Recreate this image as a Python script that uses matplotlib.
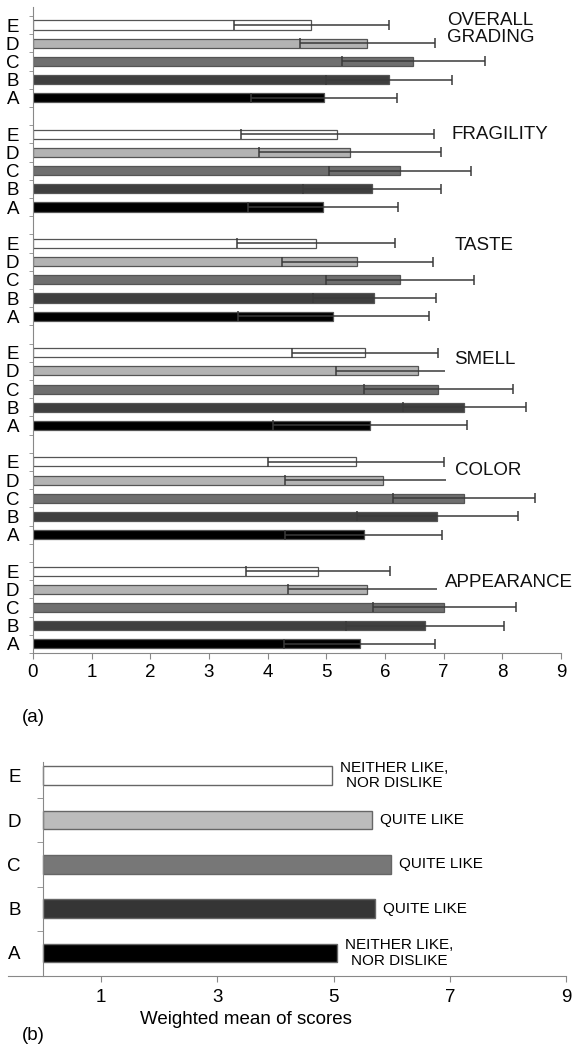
import numpy as np
import matplotlib
matplotlib.use('Agg')
import matplotlib.pyplot as plt

plt.rcParams['font.family'] = ['Liberation Sans', 'DejaVu Sans']

# samples A..E
samples = ['A', 'B', 'C', 'D', 'E']
# attributes, bottom group first
attributes = ['APPEARANCE', 'COLOR', 'SMELL', 'TASTE', 'FRAGILITY', 'OVERALL\nGRADING']

appearance = [5.57, 6.68, 7.01, 5.69, 4.86]
appearance_sd = [1.29, 1.35, 1.22, 1.34, 1.23]
color = [5.64, 6.89, 7.34, 5.96, 5.51]
color_sd = [1.34, 1.37, 1.21, 1.66, 1.50]
smell = [5.74, 7.35, 6.91, 6.56, 5.66]
smell_sd = [1.65, 1.05, 1.27, 1.40, 1.25]
taste = [5.12, 5.82, 6.26, 5.53, 4.82]
taste_sd = [1.63, 1.05, 1.26, 1.29, 1.35]
fragility = [4.95, 5.78, 6.26, 5.40, 5.19]
fragility_sd = [1.28, 1.18, 1.21, 1.55, 1.65]
overall = [4.96, 6.07, 6.48, 5.70, 4.74]
overall_sd = [1.25, 1.08, 1.22, 1.15, 1.32]

weighted = [5.06, 5.71, 5.99, 5.66, 4.97]
verdicts = ['NEITHER LIKE,\nNOR DISLIKE', 'QUITE LIKE', 'QUITE LIKE', 'QUITE LIKE',
            'NEITHER LIKE,\nNOR DISLIKE']

means = [appearance, color, smell, taste, fragility, overall]
sds = [appearance_sd, color_sd, smell_sd, taste_sd, fragility_sd, overall_sd]

colors_a = ['#000000', '#3f3f3f', '#6f6f6f', '#b3b3b3', '#ffffff']
colors_b = ['#000000', '#353535', '#777777', '#bcbcbc', '#ffffff']
edge = '#555555'

fig = plt.figure(figsize=(5.8, 10.45), dpi=100)

# ---- (a) ----
ax = fig.add_axes([33 / 580, 1 - 653 / 1045, 528 / 580, (653 - 6.8) / 1045])
label_pos = [(7.03, 3.35), (7.19, 9.5), (7.17, 15.6), (7.19, 21.9), (7.14, 28.0), (7.06, 33.8)]
for g, (m, s) in enumerate(zip(means, sds)):
    y = np.arange(5) + 6 * g
    ax.barh(y, m, height=0.5, color=colors_a, edgecolor=edge, linewidth=0.9, zorder=2)
    ax.errorbar(m, y, xerr=s, fmt='none', ecolor='#3a3a3a', elinewidth=1.1,
                capsize=3.5, capthick=1.1, zorder=3)
    lx, ly = label_pos[g]
    ax.text(lx, ly, attributes[g], fontsize=13.5, ha='left', va='center',
            linespacing=1.0, zorder=5, color='#111111',
            bbox=dict(boxstyle='square,pad=0.45', fc='white', ec='none'))

ax.set_xlim(0, 9)
ax.set_ylim(-0.44, 35)
ax.set_xticks(range(10))
ax.set_yticks([6 * g + i for g in range(6) for i in range(5)])
ax.set_yticklabels(samples * 6)
ax.set_yticks(np.arange(-0.5, 35, 1), minor=True)
ax.tick_params(axis='y', which='major', length=0, pad=10, labelsize=13.5)
ax.tick_params(axis='y', which='minor', length=3, color='#888888')
ax.tick_params(axis='x', length=4, color='#888888', labelsize=13.5, pad=4)
for sp in ['top', 'right']:
    ax.spines[sp].set_visible(False)
for sp in ['left', 'bottom']:
    ax.spines[sp].set_color('#888888')
fig.text(22 / 580, 1 - 717 / 1045, '(a)', fontsize=13.5, ha='left', va='center')

# ---- (b) ----
bx = fig.add_axes([8 / 580, 1 - 976 / 1045, 558 / 580, 214 / 1045])
yb = np.arange(5)
bx.barh(yb, weighted, height=0.42, color=colors_b, edgecolor='#666666', linewidth=1.0, zorder=2)
for yy, w, t in zip(yb, weighted, verdicts):
    bx.text(w + 0.14, yy, t, fontsize=11, ha='left', va='center', multialignment='center',
            linespacing=1.1)
bx.set_xlim(-0.6, 9)
bx.set_ylim(-0.52, 4.31)
bx.spines['left'].set_position(('data', 0))
for sp in ['top', 'right']:
    bx.spines[sp].set_visible(False)
for sp in ['left', 'bottom']:
    bx.spines[sp].set_color('#888888')
bx.set_xticks([1, 3, 5, 7, 9])
bx.set_yticks(yb)
bx.set_yticklabels(samples)
bx.set_yticks([0.5, 1.5, 2.5, 3.5], minor=True)
bx.tick_params(axis='y', which='major', length=0, pad=16, labelsize=13.5)
bx.tick_params(axis='y', which='minor', length=4, color='#888888')
bx.tick_params(axis='x', length=4, color='#888888', labelsize=13.5, pad=5)
bx.set_xlabel('Weighted mean of scores', fontsize=13.5, va='center')
bx.xaxis.set_label_coords((3.49 + 0.6) / 9.6, -43 / 214)
fig.text(22 / 580, 1 - 1035 / 1045, '(b)', fontsize=13.5, ha='left', va='center')

fig.savefig('out.png', dpi=100)
